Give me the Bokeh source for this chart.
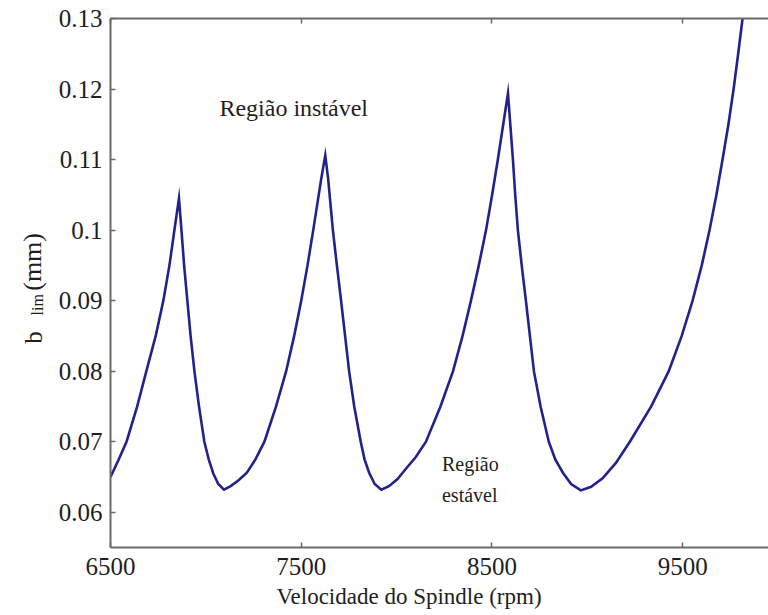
import numpy as np
from bokeh.plotting import figure
from bokeh.layouts import row
from bokeh.models import Range1d, LinearAxis, FixedTicker, Label, Title
from bokeh.embed import file_html
from bokeh.resources import INLINE

# Spindle speed (rpm) and limiting depth of cut b_lim (mm)
rpm = [6500, 6540, 6584, 6640, 6688, 6737, 6777, 6809, 6835, 6859,
       6872, 6886, 6903, 6920, 6940, 6964, 6992, 7015, 7039, 7065, 7095,
       7130, 7170, 7215, 7260, 7307, 7368, 7421, 7463, 7500, 7533, 7563, 7605, 7626,
       7641, 7666, 7687, 7709, 7730, 7751, 7778, 7812, 7832, 7856, 7885, 7920,
       7960, 8005, 8050, 8100, 8154, 8230, 8296, 8346, 8390, 8431, 8469, 8501, 8531, 8584,
       8610, 8622, 8636, 8656, 8678, 8699, 8720, 8755, 8798, 8832, 8872, 8915, 8966,
       9020, 9080, 9150, 9223, 9335, 9427, 9495, 9552, 9600, 9641, 9677, 9709, 9740,
       9767, 9791, 9814]
blim = [0.0650, 0.0673, 0.0700, 0.0750, 0.0800, 0.0850, 0.0900, 0.0950, 0.1000, 0.1045,
        0.1000, 0.0950, 0.0900, 0.0850, 0.0800, 0.0750, 0.0700, 0.0675, 0.0655, 0.0640, 0.0632,
        0.0637, 0.0645, 0.0656, 0.0675, 0.0700, 0.0750, 0.0800, 0.0850, 0.0900, 0.0950, 0.1000, 0.1073, 0.1106,
        0.1073, 0.1000, 0.0950, 0.0900, 0.0850, 0.0800, 0.0750, 0.0700, 0.0675, 0.0656, 0.0640, 0.0632,
        0.0637, 0.0647, 0.0662, 0.0678, 0.0700, 0.0750, 0.0800, 0.0850, 0.0900, 0.0950, 0.1000, 0.1050, 0.1100, 0.1194,
        0.1100, 0.1050, 0.1000, 0.0950, 0.0900, 0.0850, 0.0800, 0.0750, 0.0700, 0.0675, 0.0656, 0.0640, 0.0631,
        0.0636, 0.0648, 0.0670, 0.0700, 0.0750, 0.0800, 0.0850, 0.0900, 0.0950, 0.1000, 0.1050, 0.1100, 0.1150,
        0.1200, 0.1250, 0.1300]

x_ticks = [6500, 7500, 8500, 9500]
y_ticks = [0.06, 0.07, 0.08, 0.09, 0.1, 0.11, 0.12, 0.13]
y_tick_labels = ["0.06", "0.07", "0.08", "0.09", "0.1", "0.11", "0.12", "0.13"]

x_label = "Velocidade do Spindle (rpm)"
y_label_main = "b"
y_label_sub = "lim"
y_label_unit = "(mm)"
unstable_label = "Região instável"
stable_label_1 = "Região"
stable_label_2 = "estável"

FONT = "'Liberation Serif', 'Times New Roman', serif"
AXIS_COLOR = "#6a6a6a"
TEXT_COLOR = "#1e1e1e"

H = 615
TOP, BOTTOM = 18, 68
TITLE_W = 55
MAIN_W = 768 - TITLE_W

y_range = Range1d(0.055, 0.13)

# narrow strip holding the rotated y-axis title
ft = figure(width=TITLE_W, height=H, x_range=Range1d(0, TITLE_W), y_range=y_range,
            output_backend="svg", toolbar_location=None,
            x_axis_location=None, y_axis_location=None,
            min_border_left=0, min_border_right=0,
            min_border_top=TOP, min_border_bottom=BOTTOM,
            outline_line_color=None, background_fill_color="white",
            border_fill_color="white")
ft.grid.visible = False

p = figure(width=MAIN_W, height=H,
           x_range=Range1d(6500, 9950), y_range=y_range,
           output_backend="svg", toolbar_location=None,
           x_axis_location=None, y_axis_location=None,
           min_border_left=109 - TITLE_W, min_border_right=0,
           min_border_top=TOP, min_border_bottom=BOTTOM,
           outline_line_color=None, background_fill_color="white",
           border_fill_color="white")
p.grid.visible = False

def style_axis(ax):
    ax.axis_line_color = AXIS_COLOR
    ax.axis_line_width = 2
    ax.major_tick_line_color = AXIS_COLOR
    ax.major_tick_line_width = 1.5
    ax.major_tick_in = 5
    ax.major_tick_out = 0
    ax.minor_tick_line_color = None
    ax.major_label_text_font = FONT
    ax.major_label_text_color = TEXT_COLOR
    ax.major_label_text_font_size = "25px"

bottom = LinearAxis(ticker=FixedTicker(ticks=x_ticks))
style_axis(bottom)
bottom.major_label_standoff = 10
p.add_layout(bottom, "below")

p.add_layout(Title(text=x_label, align="left", offset=275 - 109, standoff=8,
                   text_font=FONT, text_font_size="23px", text_font_style="normal",
                   text_color=TEXT_COLOR), "below")

left = LinearAxis(ticker=FixedTicker(ticks=y_ticks))
style_axis(left)
left.major_label_standoff = 8
left.major_label_overrides = {v: s for v, s in zip(y_ticks, y_tick_labels)}
p.add_layout(left, "left")

top = LinearAxis(ticker=FixedTicker(ticks=x_ticks))
style_axis(top)
top.major_label_standoff = 0
top.major_label_overrides = {v: "" for v in x_ticks}
p.add_layout(top, "above")

p.line(rpm, blim, line_color="#22228c", line_width=2.6, line_join="miter")

def add_text(fig, text, x, y, size, angle=0.0):
    fig.add_layout(Label(x=x, y=y, text=text, angle=angle, text_font=FONT,
                         text_font_size=size, text_color=TEXT_COLOR,
                         text_align="left", text_baseline="alphabetic"))

# y-axis title b_lim (mm), rotated pieces in the strip (x in strip pixels)
add_text(ft, y_label_main, 33, 0.0839, "25px", np.pi / 2)
add_text(ft, y_label_sub, 37, 0.0879, "16px", np.pi / 2)
add_text(ft, y_label_unit, 32, 0.0914, "26px", np.pi / 2)

add_text(p, unstable_label, 7071, 0.1173, "24px")
add_text(p, stable_label_1, 8238, 0.0668, "20px")
add_text(p, stable_label_2, 8238, 0.0624, "20px")

layout = row(ft, p, spacing=0)
open("out.html", "w").write(file_html(layout, INLINE))
